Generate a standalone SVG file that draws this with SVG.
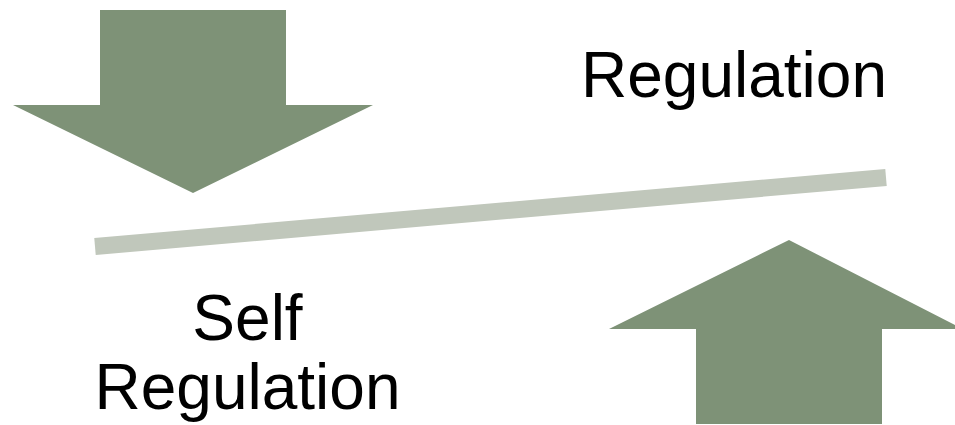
<svg xmlns="http://www.w3.org/2000/svg" width="955" height="425" viewBox="0 0 955 425">
<style>
.arrow{fill:#7E9277}
.lbl{font-family:"Liberation Sans",Arial,sans-serif;font-size:64px;fill:#000}
</style>
<rect width="955" height="425" fill="#fff"/>
<g id="down-arrow"><polygon class="arrow" points="100,10 286,10 286,105 373,105 193,193 13,105 100,105"/></g>
<g id="up-arrow"><polygon class="arrow" points="789,240 955,325 955,329 882,329 882,424 696,424 696,329 609,329"/></g>
<g id="connectors"><line x1="95" y1="246.5" x2="886" y2="177.5" stroke="#C0C7BB" stroke-width="17"/></g>
<g id="regulation"><text class="lbl" x="734" y="97" text-anchor="middle">Regulation</text></g>
<g id="self-regulation"><text class="lbl" x="247.5" y="340" text-anchor="middle">Self</text><text class="lbl" x="247.5" y="409" text-anchor="middle">Regulation</text></g>
</svg>
